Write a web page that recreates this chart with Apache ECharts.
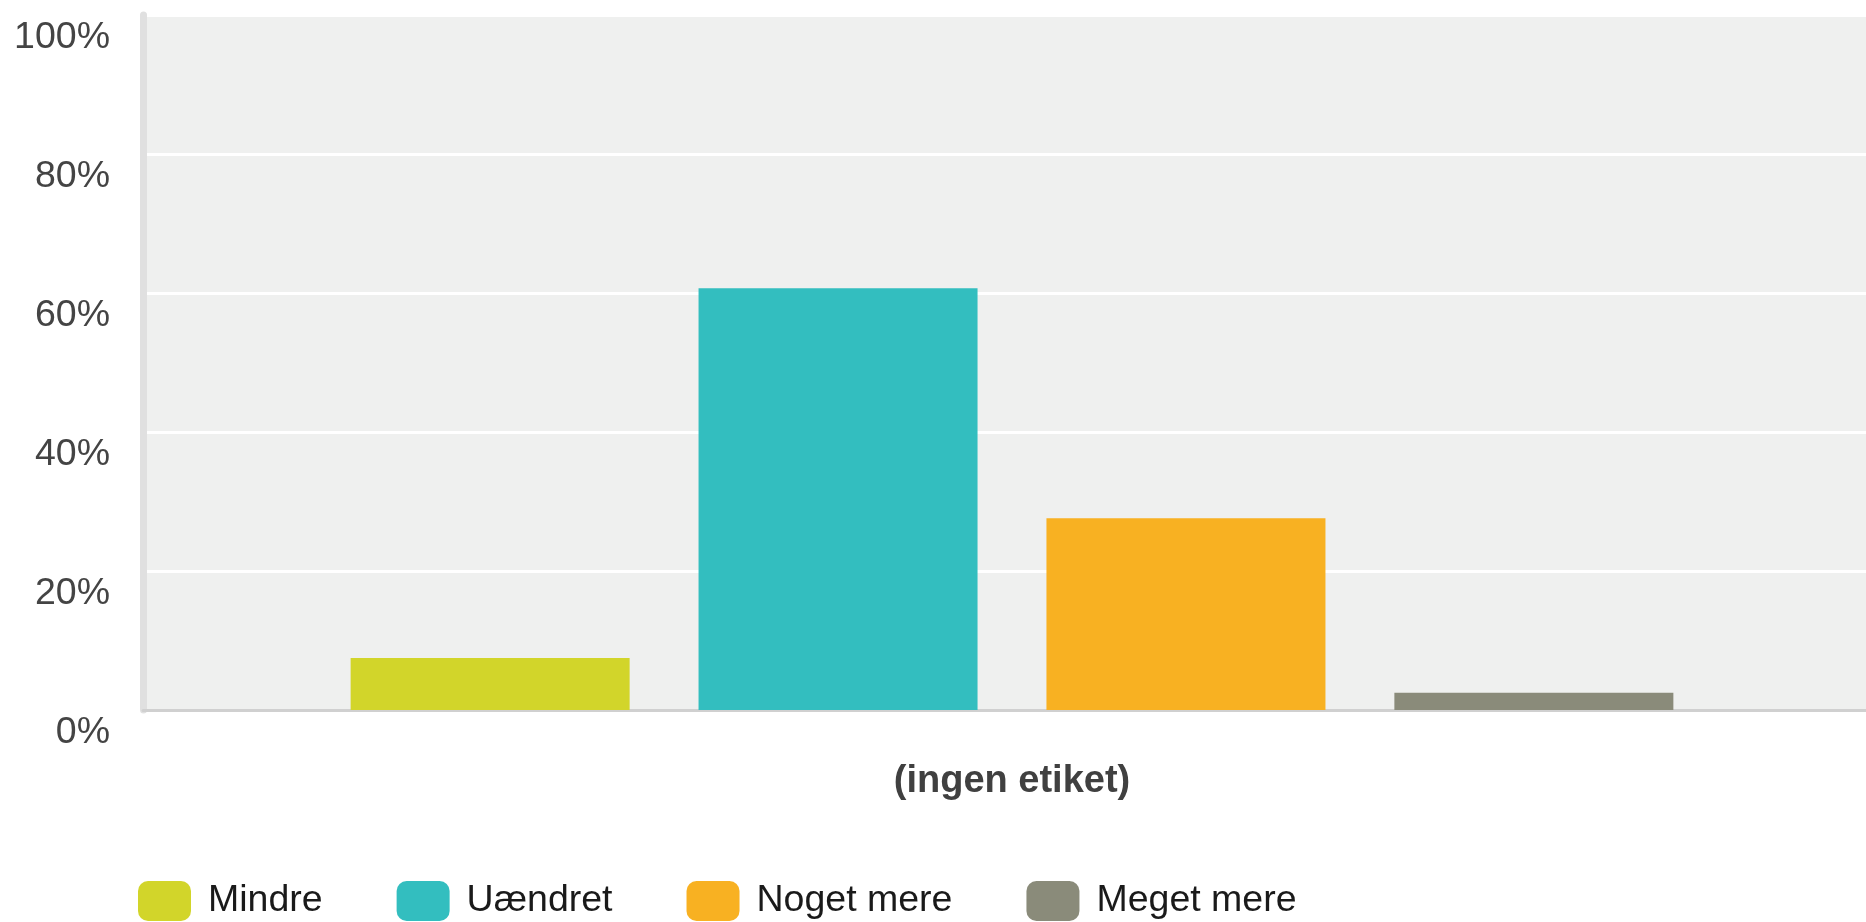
<!DOCTYPE html>
<html>
<head>
<meta charset="utf-8">
<script src="https://cdn.jsdelivr.net/npm/echarts@6/dist/echarts.min.js"></script>
<style>
html,body{margin:0;padding:0;background:#fff;}
#chart{width:1866px;height:922px;}
</style>
</head>
<body>
<div id="chart"></div>
<script>
const categories = ['(ingen etiket)'];
const seriesNames = ['Mindre', 'Uændret', 'Noget mere', 'Meget mere'];
const seriesValues = [[7.5], [60.7], [27.6], [2.5]];
const seriesColors = ['#D2D52A', '#33BEBF', '#F8B122', '#8A8B7A'];
const yTicks = { min: 0, max: 100, interval: 20 };

const chart = echarts.init(document.getElementById('chart'));
const font = '"Liberation Sans", Arial, Helvetica, sans-serif';

chart.setOption({
  animation: false,
  backgroundColor: '#ffffff',
  grid: {
    left: 143, right: -15, top: 15, bottom: 212,
    outerBoundsMode: 'none', containLabel: false,
    show: true, backgroundColor: '#EFF0EF', borderWidth: 0
  },
  legend: {
    data: seriesNames,
    left: 133, top: 876,
    itemWidth: 53, itemHeight: 40, itemGap: 74,
    icon: 'roundRect',
    textStyle: { fontFamily: font, fontSize: 37.5, color: '#1a1a1a', padding: [0, 0, 0, 12] }
  },
  xAxis: {
    type: 'category',
    data: categories,
    axisLine: { show: true, lineStyle: { color: '#d0d0d0', width: 3 } },
    axisTick: { show: false },
    axisLabel: { fontFamily: font, fontSize: 38, fontWeight: 'bold', color: '#404040', margin: 53 },
    splitLine: { show: false }
  },
  yAxis: {
    type: 'value',
    min: yTicks.min, max: yTicks.max, interval: yTicks.interval,
    axisLine: { show: true, lineStyle: { color: '#e0e0e0', width: 7 } },
    axisTick: { show: false },
    axisLabel: {
      fontFamily: font, fontSize: 37.5, color: '#444', margin: 33,
      verticalAlign: 'top', padding: [4, 0, 0, 0], formatter: '{value}%'
    },
    splitLine: { show: true, lineStyle: { color: '#ffffff', width: 3 } }
  },
  series: seriesNames.map((name, i) => ({
    name: name,
    type: 'bar',
    data: seriesValues[i],
    barWidth: 279,
    barGap: '24.7%',
    itemStyle: { color: seriesColors[i] }
  }))
});
</script>
</body>
</html>
